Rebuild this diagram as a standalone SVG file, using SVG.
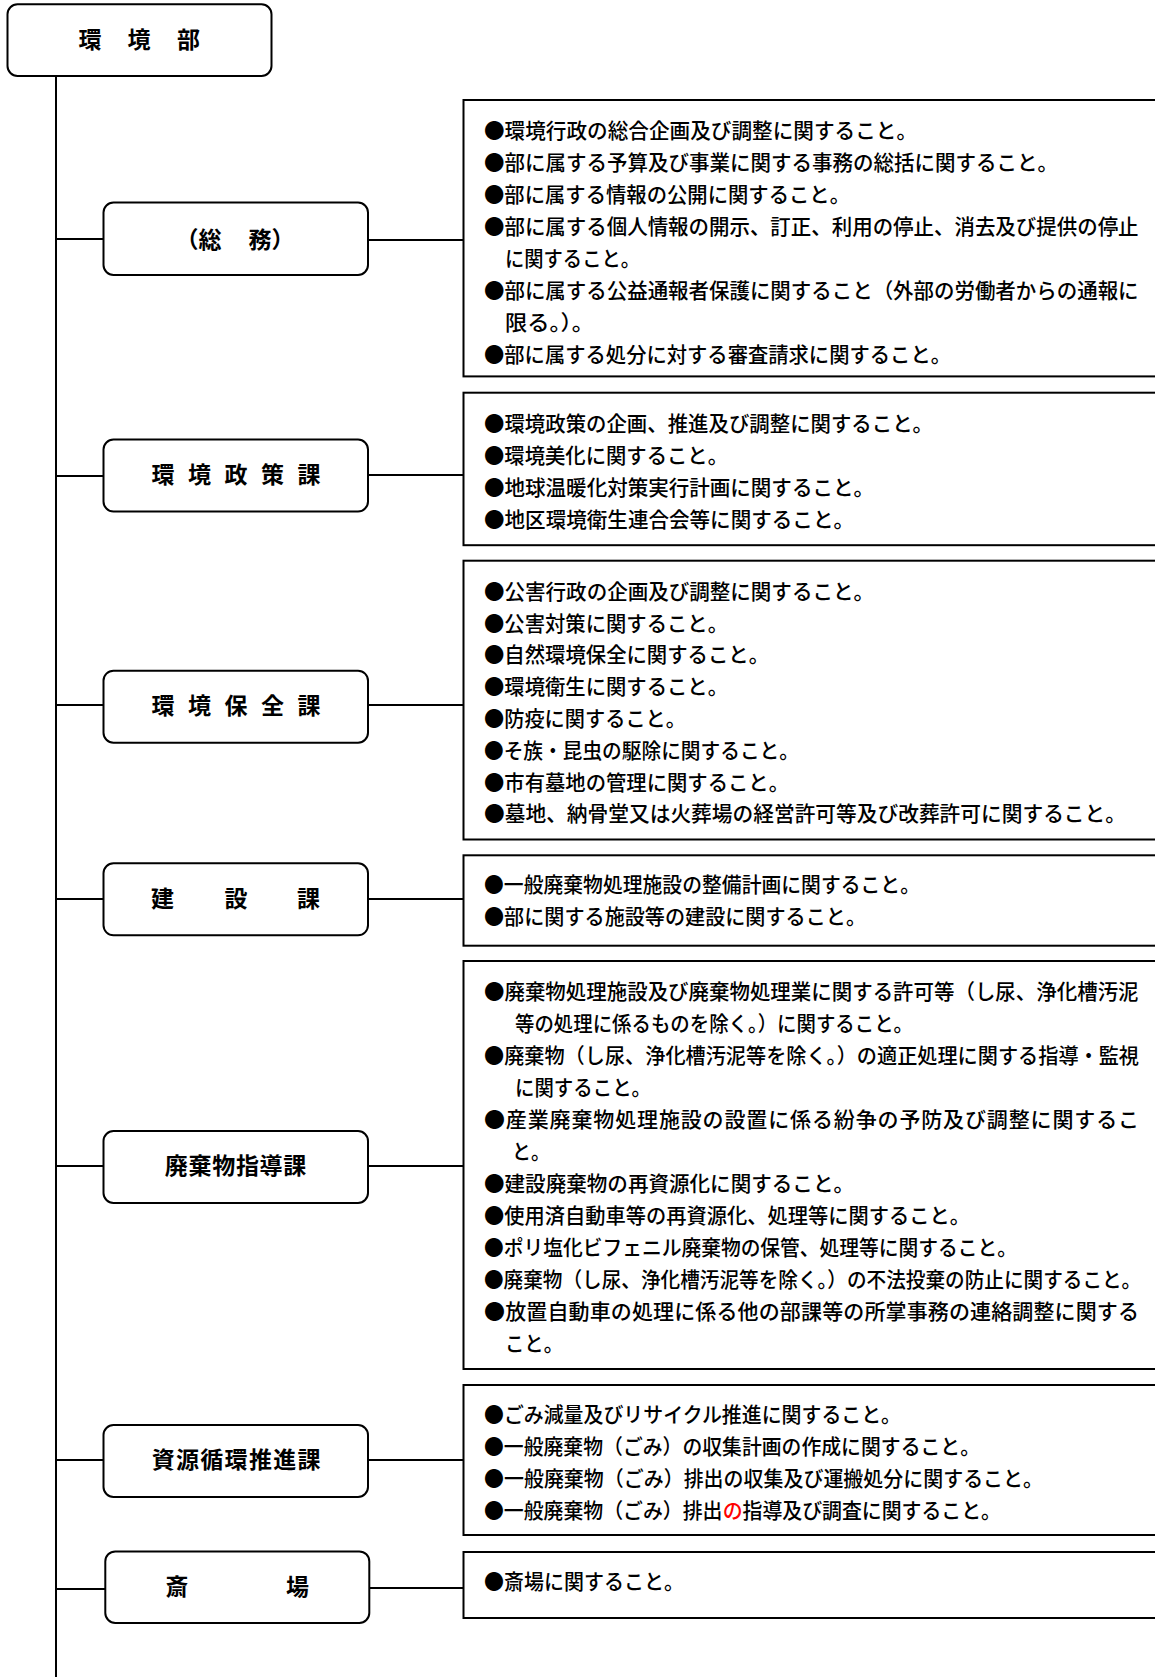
<svg xmlns="http://www.w3.org/2000/svg" width="1155" height="1677" viewBox="0 0 1155 1677">
<style>
.node rect{fill:#fff;stroke:#000;stroke-width:2}
.lbl{font-family:"Noto Sans CJK JP","Noto Sans CJK SC",sans-serif;font-weight:700;font-size:23px;text-anchor:middle;fill:#000}
.desc rect{fill:#fff;stroke:#000;stroke-width:2}
.t{font-family:"Noto Sans CJK JP","Noto Sans CJK SC",sans-serif;font-size:21px;font-weight:500;fill:#000}
.conn line{stroke:#000;stroke-width:2}
.red{fill:#ff0000}
</style>
<rect width="1155" height="1677" fill="#fff"/>
<g id="connectors" class="conn">
<line x1="56" y1="75" x2="56" y2="1677"/>
<line x1="56" y1="239" x2="103.5" y2="239"/>
<line x1="368" y1="240" x2="463.5" y2="240"/>
<line x1="56" y1="476" x2="103.5" y2="476"/>
<line x1="368" y1="475" x2="463.5" y2="475"/>
<line x1="56" y1="705" x2="103.5" y2="705"/>
<line x1="368" y1="705" x2="463.5" y2="705"/>
<line x1="56" y1="899" x2="103.5" y2="899"/>
<line x1="368" y1="899" x2="463.5" y2="899"/>
<line x1="56" y1="1166" x2="103.5" y2="1166"/>
<line x1="368" y1="1166" x2="463.5" y2="1166"/>
<line x1="56" y1="1460" x2="103.5" y2="1460"/>
<line x1="368" y1="1460" x2="463.5" y2="1460"/>
<line x1="56" y1="1589" x2="105.3" y2="1589"/>
<line x1="369.3" y1="1588" x2="463.5" y2="1588"/>
</g>
<g id="node-kankyobu" class="node">
<rect x="7.5" y="4.3" width="264" height="71.6" rx="10"/>
<text class="lbl" x="90 139 188.5" y="47.8">環境部</text>
</g>
<g id="node-somu" class="node">
<rect x="103.5" y="202.5" width="264.5" height="72.5" rx="10"/>
<text class="lbl" x="187 210 260 283" y="247.8">（総務）</text>
</g>
<g id="node-seisaku" class="node">
<rect x="103.5" y="439.5" width="264.5" height="72" rx="10"/>
<text class="lbl" x="163 199.5 236 272.5 309" y="483.3">環境政策課</text>
</g>
<g id="node-hozen" class="node">
<rect x="103.5" y="670.7" width="264.5" height="72" rx="10"/>
<text class="lbl" x="163 199.5 236 272.5 309" y="713.8">環境保全課</text>
</g>
<g id="node-kensetsu" class="node">
<rect x="103.5" y="863.3" width="264.5" height="72" rx="10"/>
<text class="lbl" x="162.5 236 308.5" y="907.3">建設課</text>
</g>
<g id="node-haikibutsu" class="node">
<rect x="103.5" y="1131" width="264.5" height="72" rx="10"/>
<text class="lbl" x="176.3 200 223.7 247.4 271.1 294.8" y="1174.3">廃棄物指導課</text>
</g>
<g id="node-shigen" class="node">
<rect x="103.5" y="1425" width="264.5" height="72" rx="10"/>
<text class="lbl" x="163.2 187.5 211.8 236.1 260.4 284.7 309" y="1467.5">資源循環推進課</text>
</g>
<g id="node-saijo" class="node">
<rect x="105.3" y="1551.4" width="264" height="71.5" rx="10"/>
<text class="lbl" x="177 297.5" y="1594.8">斎場</text>
</g>
<g id="desc-somu" class="desc">
<rect x="463.5" y="100" width="720" height="276.4"/>
<text class="t" x="484" y="138.3" textLength="433" lengthAdjust="spacingAndGlyphs">●環境行政の総合企画及び調整に関すること。</text>
<text class="t" x="484" y="170.2" textLength="574" lengthAdjust="spacingAndGlyphs">●部に属する予算及び事業に関する事務の総括に関すること。</text>
<text class="t" x="484" y="202.1" textLength="366" lengthAdjust="spacingAndGlyphs">●部に属する情報の公開に関すること。</text>
<text class="t" transform="translate(484 234) scale(0.975 1)">●部に属する個人情報の開示、訂正、利用の停止、消去及び提供の停止</text>
<text class="t" x="505" y="265.9" textLength="135" lengthAdjust="spacingAndGlyphs">に関すること。</text>
<text class="t" transform="translate(484 297.8) scale(0.975 1)">●部に属する公益通報者保護に関すること（外部の労働者からの通報に</text>
<text class="t" x="505" y="329.7" textLength="89" lengthAdjust="spacingAndGlyphs">限る。）。</text>
<text class="t" x="484" y="361.6" textLength="467" lengthAdjust="spacingAndGlyphs">●部に属する処分に対する審査請求に関すること。</text>
</g>
<g id="desc-seisaku" class="desc">
<rect x="463.5" y="392.7" width="720" height="152.5"/>
<text class="t" x="484" y="430.8" textLength="449" lengthAdjust="spacingAndGlyphs">●環境政策の企画、推進及び調整に関すること。</text>
<text class="t" x="484" y="462.8" textLength="244" lengthAdjust="spacingAndGlyphs">●環境美化に関すること。</text>
<text class="t" x="484" y="494.8" textLength="390" lengthAdjust="spacingAndGlyphs">●地球温暖化対策実行計画に関すること。</text>
<text class="t" x="484" y="526.8" textLength="370" lengthAdjust="spacingAndGlyphs">●地区環境衛生連合会等に関すること。</text>
</g>
<g id="desc-hozen" class="desc">
<rect x="463.5" y="560.7" width="720" height="278.8"/>
<text class="t" x="484" y="598.8" textLength="390" lengthAdjust="spacingAndGlyphs">●公害行政の企画及び調整に関すること。</text>
<text class="t" x="484" y="630.6" textLength="244" lengthAdjust="spacingAndGlyphs">●公害対策に関すること。</text>
<text class="t" x="484" y="662.4" textLength="285" lengthAdjust="spacingAndGlyphs">●自然環境保全に関すること。</text>
<text class="t" x="484" y="694.2" textLength="244" lengthAdjust="spacingAndGlyphs">●環境衛生に関すること。</text>
<text class="t" x="484" y="726" textLength="202" lengthAdjust="spacingAndGlyphs">●防疫に関すること。</text>
<text class="t" x="484" y="757.8" textLength="315" lengthAdjust="spacingAndGlyphs">●そ族・昆虫の駆除に関すること。</text>
<text class="t" x="484" y="789.6" textLength="305" lengthAdjust="spacingAndGlyphs">●市有墓地の管理に関すること。</text>
<text class="t" x="484" y="821.4" textLength="642" lengthAdjust="spacingAndGlyphs">●墓地、納骨堂又は火葬場の経営許可等及び改葬許可に関すること。</text>
</g>
<g id="desc-kensetsu" class="desc">
<rect x="463.5" y="855.3" width="720" height="90.4"/>
<text class="t" x="484" y="891.8" textLength="436" lengthAdjust="spacingAndGlyphs">●一般廃棄物処理施設の整備計画に関すること。</text>
<text class="t" x="484" y="923.8" textLength="382" lengthAdjust="spacingAndGlyphs">●部に関する施設等の建設に関すること。</text>
</g>
<g id="desc-haikibutsu" class="desc">
<rect x="463.5" y="961" width="720" height="408"/>
<text class="t" transform="translate(484 998.8) scale(0.975 1)">●廃棄物処理施設及び廃棄物処理業に関する許可等（し尿、浄化槽汚泥</text>
<text class="t" x="515" y="1030.8" textLength="398" lengthAdjust="spacingAndGlyphs">等の処理に係るものを除く。）に関すること。</text>
<text class="t" transform="translate(484 1062.8) scale(0.96 1)">●廃棄物（し尿、浄化槽汚泥等を除く。）の適正処理に関する指導・監視</text>
<text class="t" x="515" y="1094.8" textLength="136" lengthAdjust="spacingAndGlyphs">に関すること。</text>
<text class="t" x="484" y="1126.8" textLength="655" lengthAdjust="spacing">●産業廃棄物処理施設の設置に係る紛争の予防及び調整に関するこ</text>
<text class="t" x="512" y="1158.8" textLength="38" lengthAdjust="spacingAndGlyphs">と。</text>
<text class="t" x="484" y="1190.8" textLength="370" lengthAdjust="spacingAndGlyphs">●建設廃棄物の再資源化に関すること。</text>
<text class="t" x="484" y="1222.8" textLength="486" lengthAdjust="spacingAndGlyphs">●使用済自動車等の再資源化、処理等に関すること。</text>
<text class="t" x="484" y="1254.8" textLength="533" lengthAdjust="spacingAndGlyphs">●ポリ塩化ビフェニル廃棄物の保管、処理等に関すること。</text>
<text class="t" transform="translate(484 1286.8) scale(0.935 1)">●廃棄物（し尿、浄化槽汚泥等を除く。）の不法投棄の防止に関すること。</text>
<text class="t" x="484" y="1318.8" textLength="655" lengthAdjust="spacing">●放置自動車の処理に係る他の部課等の所掌事務の連絡調整に関する</text>
<text class="t" x="505" y="1350.8" textLength="58" lengthAdjust="spacingAndGlyphs">こと。</text>
</g>
<g id="desc-shigen" class="desc">
<rect x="463.5" y="1385" width="720" height="150"/>
<text class="t" x="484" y="1421.8" textLength="417" lengthAdjust="spacingAndGlyphs">●ごみ減量及びリサイクル推進に関すること。</text>
<text class="t" x="484" y="1453.8" textLength="496" lengthAdjust="spacingAndGlyphs">●一般廃棄物（ごみ）の収集計画の作成に関すること。</text>
<text class="t" x="484" y="1485.8" textLength="559" lengthAdjust="spacingAndGlyphs">●一般廃棄物（ごみ）排出の収集及び運搬処分に関すること。</text>
<g transform="translate(484 1517.8) scale(0.947 1)">
<text class="t" x="0" y="0">●一般廃棄物（ごみ）排出</text>
<text class="t red" x="252" y="0">の</text>
<text class="t" x="273" y="0">指導及び調査に関すること。</text>
</g>
</g>
<g id="desc-saijo" class="desc">
<rect x="463.5" y="1552" width="720" height="66"/>
<text class="t" x="484" y="1588.8" textLength="200" lengthAdjust="spacingAndGlyphs">●斎場に関すること。</text>
</g>
</svg>
